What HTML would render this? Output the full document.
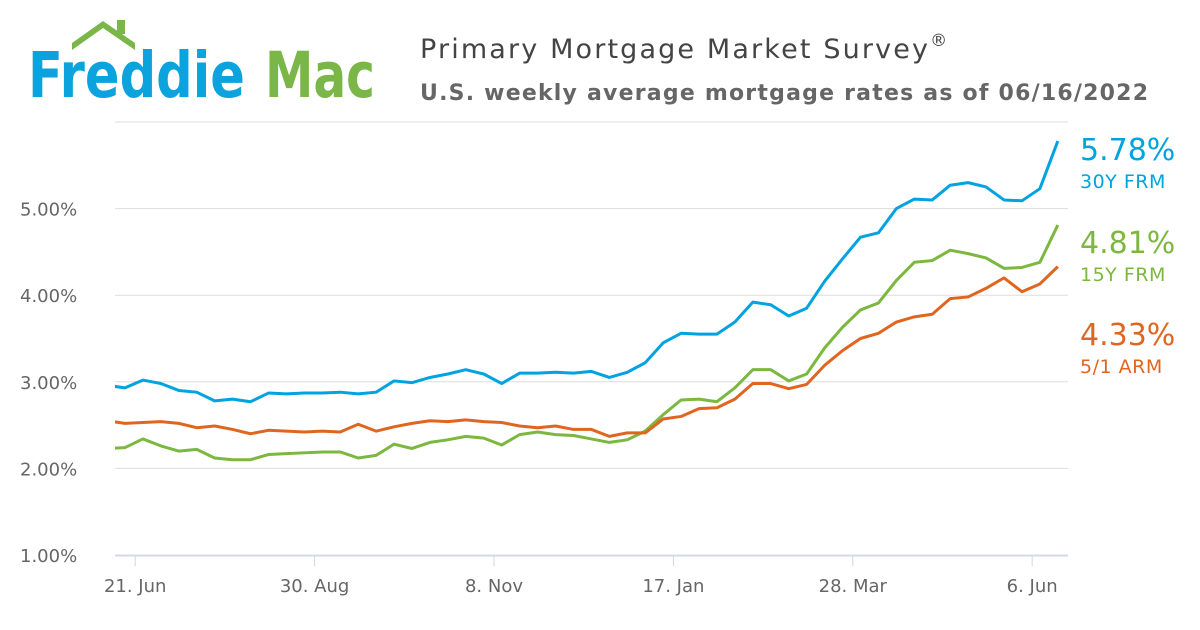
<!DOCTYPE html>
<html><head><meta charset="utf-8"><style>
body{margin:0;width:1200px;height:630px;background:#fff;overflow:hidden;font-family:"DejaVu Sans","Liberation Sans",sans-serif}
svg{position:absolute;left:0;top:0}
</style></head><body>
<svg width="1200" height="630">
  <g>
    <path d="M72 43 L103 21 L135 43 L135 50 L103 28 L72 50 Z" fill="#7ab648"/>
    <rect x="117" y="20" width="8" height="14" fill="#7ab648"/>
    <text x="28" y="97" font-family="'DejaVu Sans',sans-serif" font-size="63" font-weight="bold" fill="#0aa3dd" textLength="217" lengthAdjust="spacingAndGlyphs">Freddie</text>
    <text x="265" y="97" font-family="'DejaVu Sans',sans-serif" font-size="63" font-weight="bold" fill="#7ab648" textLength="110" lengthAdjust="spacingAndGlyphs">Mac</text>
  </g>
  <text x="420" y="58" font-size="27" fill="#444"><tspan textLength="508" lengthAdjust="spacing">Primary Mortgage Market Survey</tspan><tspan font-size="17" dy="-12">®</tspan></text>
  <text x="420" y="100" font-size="22" font-weight="bold" fill="#666" textLength="728" lengthAdjust="spacing">U.S. weekly average mortgage rates as of 06/16/2022</text>
  <g id="grid"></g><g id="xaxis"></g><g id="series"></g><g id="labels"></g>
</svg>
<script>
const yTicks=[1,2,3,4,5,6];
const xTickLabels=["21. Jun","30. Aug","8. Nov","17. Jan","28. Mar","6. Jun"];
const xTickWeeks=[1.571,11.571,21.571,31.571,41.571,51.571];
const frm30=[2.96,2.93,3.02,2.98,2.90,2.88,2.78,2.80,2.77,2.87,2.86,2.87,2.87,2.88,2.86,2.88,3.01,2.99,3.05,3.09,3.14,3.09,2.98,3.10,3.10,3.11,3.10,3.12,3.05,3.11,3.22,3.45,3.56,3.55,3.55,3.69,3.92,3.89,3.76,3.85,4.16,4.42,4.67,4.72,5.00,5.11,5.10,5.27,5.30,5.25,5.10,5.09,5.23,5.78];
const frm15=[2.23,2.24,2.34,2.26,2.20,2.22,2.12,2.10,2.10,2.16,2.17,2.18,2.19,2.19,2.12,2.15,2.28,2.23,2.30,2.33,2.37,2.35,2.27,2.39,2.42,2.39,2.38,2.34,2.30,2.33,2.43,2.62,2.79,2.80,2.77,2.93,3.14,3.14,3.01,3.09,3.39,3.63,3.83,3.91,4.17,4.38,4.40,4.52,4.48,4.43,4.31,4.32,4.38,4.81];
const arm51=[2.55,2.52,2.53,2.54,2.52,2.47,2.49,2.45,2.40,2.44,2.43,2.42,2.43,2.42,2.51,2.43,2.48,2.52,2.55,2.54,2.56,2.54,2.53,2.49,2.47,2.49,2.45,2.45,2.37,2.41,2.41,2.57,2.60,2.69,2.70,2.80,2.98,2.98,2.92,2.97,3.19,3.36,3.50,3.56,3.69,3.75,3.78,3.96,3.98,4.08,4.20,4.04,4.13,4.33];
const seriesNames=["30Y FRM","15Y FRM","5/1 ARM"];
const NS="http://www.w3.org/2000/svg";
const xS=w=>107+w*17.94;
const yS=v=>555-(v-1)*86.6;
function mk(t,a,p){const e=document.createElementNS(NS,t);for(const k in a)e.setAttribute(k,a[k]);p.appendChild(e);return e;}
const grid=document.getElementById('grid');
yTicks.forEach(v=>{
  const l=mk('line',{x1:115,x2:1068,y1:yS(v),y2:yS(v),stroke:'#ddd','stroke-width':1},grid);
  
  
  if(v<6){const t=mk('text',{x:20,y:yS(v)+7,'font-size':18,fill:'#666'},grid);t.textContent=v.toFixed(2)+'%';
  
  }
});
const xa=document.getElementById('xaxis');
const ax=mk('line',{x1:115,x2:1068,y1:556,y2:556,stroke:'#ccd6eb','stroke-width':1},xa);


xTickLabels.forEach((s,i)=>{
  const x=xS(xTickWeeks[i]);
  const tk=mk('line',{x1:x,x2:x,y1:556,y2:566,stroke:'#ccd6eb'},xa);
  
  
  const t=mk('text',{x:x,y:592,'font-size':18,fill:'#666','text-anchor':'middle'},xa);t.textContent=s;
  
  
});
const defs=mk('defs',{},document.querySelector('svg'));
const cp=mk('clipPath',{id:'cp'},defs);mk('rect',{x:115,y:100,width:960,height:460},cp);
const sg=document.getElementById('series');sg.setAttribute('clip-path','url(#cp)');
const colors=['#00a3e0','#7cb83f','#e0661f'];
[frm30,frm15,arm51].forEach((d,i)=>{
  const p=mk('polyline',{points:d.map((v,j)=>xS(j)+','+yS(v)).join(' '),fill:'none',stroke:colors[i],'stroke-width':3,'stroke-linejoin':'round'},sg);
  
  
});
const lg=document.getElementById('labels');
[[frm30,160],[frm15,253],[arm51,345]].forEach((a,i)=>{
  const d=a[0];
  const t=mk('text',{x:1080,y:a[1],'font-size':30,fill:colors[i]},lg);t.textContent=d[d.length-1].toFixed(2)+'%';
  
  
  const n=mk('text',{x:1080,y:a[1]+28,'font-size':19,fill:colors[i],'letter-spacing':'0.5'},lg);n.textContent=seriesNames[i];
  
  
});
</script>
</body></html>
